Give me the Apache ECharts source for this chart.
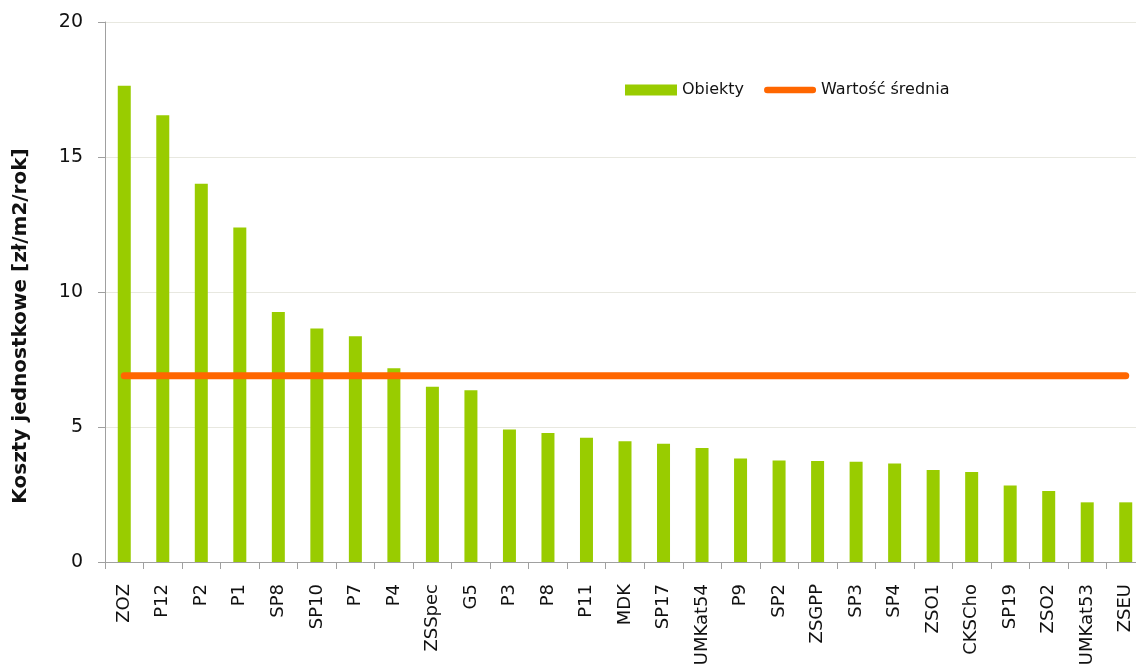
<!DOCTYPE html>
<html>
<head>
<meta charset="utf-8">
<script src="https://cdn.jsdelivr.net/npm/echarts@6/dist/echarts.min.js"></script>
<style>
  html, body { margin: 0; padding: 0; background: #fff; }
  #chart { width: 1136px; height: 670px; }
</style>
</head>
<body>
<div id="chart"></div>
<script>
// categories (objects), sorted by unit cost
const categories = ['ZOZ', 'P12', 'P2', 'P1', 'SP8', 'SP10', 'P7', 'P4', 'ZSSpec', 'G5',
  'P3', 'P8', 'P11', 'MDK', 'SP17', 'UMKat54', 'P9', 'SP2', 'ZSGPP', 'SP3',
  'SP4', 'ZSO1', 'CKSCho', 'SP19', 'ZSO2', 'UMKat53', 'ZSEU']

// unit costs [zł/m2/rok]
const objectCosts = [17.64, 16.55, 14.01, 12.39, 9.26, 8.65, 8.36, 7.18, 6.49, 6.36,
  4.91, 4.78, 4.60, 4.47, 4.38, 4.22, 3.83, 3.76, 3.74, 3.71,
  3.65, 3.41, 3.33, 2.83, 2.63, 2.21, 2.21]

// mean value, one point per category
const meanValues = [6.9, 6.9, 6.9, 6.9, 6.9, 6.9, 6.9, 6.9, 6.9, 6.9,
  6.9, 6.9, 6.9, 6.9, 6.9, 6.9, 6.9, 6.9, 6.9, 6.9,
  6.9, 6.9, 6.9, 6.9, 6.9, 6.9, 6.9]

const yTicks = [0, 5, 10, 15, 20]

const fontFamily = '"DejaVu Sans", Verdana, sans-serif'

// rounded bar used as legend icon of the mean line
const lineIcon = 'path://M3.5,0 H52.5 A3.5,3.5 0 0 1 52.5,7 H3.5 A3.5,3.5 0 0 1 3.5,0 Z'

const chart = echarts.init(document.getElementById('chart'), null, { renderer: 'canvas' })

chart.setOption({
  animation: false,
  textStyle: { fontFamily },
  // plot runs past the right edge, as in the original picture
  grid: { left: 105, top: 22, width: 1040, height: 540, outerBoundsMode: 'none' },
  legend: {
    left: 620,
    top: 77,
    itemWidth: 52,
    itemHeight: 11,
    itemGap: 20,
    textStyle: { fontSize: 16, color: '#111', fontFamily },
    data: [
      { name: 'Obiekty', icon: 'rect' },
      { name: 'Wartość średnia', icon: lineIcon }
    ]
  },
  xAxis: {
    type: 'category',
    data: categories,
    axisLine: { lineStyle: { color: '#a0a0a0', width: 1 } },
    axisTick: { show: true, length: 7, lineStyle: { color: '#a0a0a0' } },
    axisLabel: {
      rotate: 90,
      margin: 22,
      fontSize: 18,
      color: '#111',
      interval: 0,
      fontFamily
    }
  },
  yAxis: {
    type: 'value',
    min: yTicks[0],
    max: yTicks[yTicks.length - 1],
    interval: 5,
    axisLine: { show: true, lineStyle: { color: '#a0a0a0', width: 1 } },
    axisTick: { show: true, length: 7, lineStyle: { color: '#a0a0a0' } },
    axisLabel: { margin: 22, fontSize: 19, color: '#111', fontFamily },
    splitLine: { lineStyle: { color: '#e8e8e0', width: 1 } }
  },
  graphic: [{
    type: 'text',
    x: 21,
    y: 326,
    rotation: Math.PI / 2,
    style: {
      text: 'Koszty jednostkowe [zł/m2/rok]',
      font: 'bold 20px ' + fontFamily,
      fill: '#111',
      align: 'center',
      verticalAlign: 'middle'
    }
  }],
  series: [
    {
      name: 'Obiekty',
      type: 'bar',
      data: objectCosts,
      barWidth: 13,
      itemStyle: { color: '#99cc00' }
    },
    {
      name: 'Wartość średnia',
      type: 'line',
      data: meanValues,
      symbol: 'none',
      lineStyle: { color: '#ff6600', width: 7, cap: 'round' },
      itemStyle: { color: '#ff6600' }
    }
  ]
})
</script>
</body>
</html>
